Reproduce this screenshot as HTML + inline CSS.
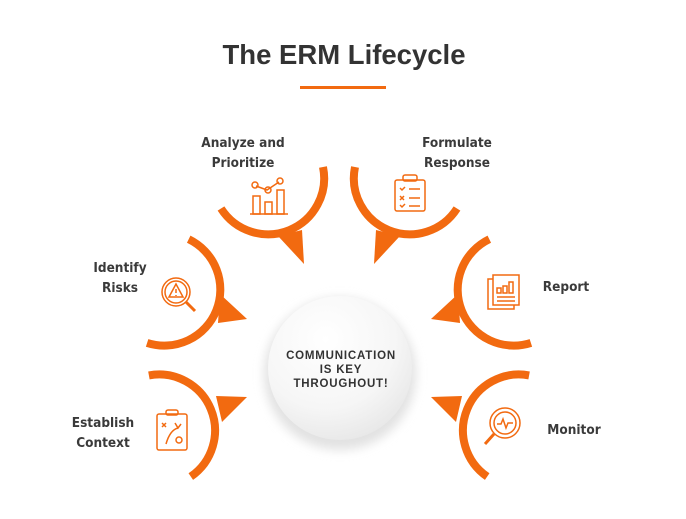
<!DOCTYPE html>
<html><head><meta charset="utf-8"><style>
html,body{margin:0;padding:0;background:#fff}
body{width:686px;height:519px;overflow:hidden;position:relative;font-family:"DejaVu Sans Condensed","Liberation Sans Narrow","Liberation Sans",sans-serif}
.l{position:absolute;font-weight:bold;color:#3a3a3a;font-size:13.5px;line-height:20px;text-align:center;font-stretch:condensed}
</style></head><body>
<svg width="686" height="519" style="position:absolute;left:0;top:0">
<defs>
<radialGradient id="g" cx="0.4" cy="0.3" r="0.8"><stop offset="0" stop-color="#ffffff"/><stop offset="0.6" stop-color="#f6f6f6"/><stop offset="1" stop-color="#e4e4e4"/></radialGradient>
<filter id="sh" x="-30%" y="-30%" width="160%" height="160%"><feGaussianBlur stdDeviation="5"/></filter>
</defs>
<text x="344" y="64" text-anchor="middle" font-family="Liberation Sans, sans-serif" font-weight="bold" font-size="27.5" fill="#333">The ERM Lifecycle</text>
<rect x="300" y="86" width="86" height="3" fill="#f26a10"/>
<circle cx="340" cy="374" r="76" fill="#e2e2e2" filter="url(#sh)"/>
<circle cx="340" cy="368" r="72" fill="url(#g)"/>
<text font-family="Liberation Sans, sans-serif" font-weight="bold" font-size="11.5" fill="#333" text-anchor="middle" letter-spacing="0.8"><tspan x="341" y="359">COMMUNICATION</tspan><tspan x="341" y="373">IS KEY</tspan><tspan x="341" y="387">THROUGHOUT!</tspan></text>
<g fill="none" stroke="#f26a10" stroke-width="8">
<path d="M323 167 A56 56 0 0 1 221 208.5"/>
<path d="M355 167 A56 56 0 0 0 457 208.5"/>
<path d="M188.7 239.2 A56 56 0 0 1 147.1 342.9"/>
<path d="M489.3 239.2 A56 56 0 0 0 530.9 342.9"/>
<path d="M148.9 375.4 A56 56 0 0 1 190.8 476.6"/>
<path d="M529.1 375.4 A56 56 0 0 0 487.2 476.6"/>
</g>
<g fill="#f26a10">
<polygon points="278,236 302,230 304,264"/>
<polygon points="400,236 376,230 374,264"/>
<polygon points="220,294 247,319 218,323"/>
<polygon points="458,294 431,319 460,323"/>
<polygon points="216,396 247,397 222,422"/>
<polygon points="462,396 431,397 456,422"/>
</g>
<g fill="none" stroke="#f26a10" stroke-width="1.5">
<path d="M250 214 H288"/><rect x="253" y="196" width="7" height="18"/><rect x="265" y="202" width="7" height="12"/><rect x="277" y="190" width="7" height="24"/>
<path d="M256 186 L267 190 L279 182"/><circle cx="255" cy="185" r="3"/><circle cx="268" cy="190" r="3"/><circle cx="280" cy="181" r="3"/>
<rect x="395" y="180" width="30" height="31" rx="2"/><rect x="403" y="175" width="14" height="6" rx="2"/>
<path d="M400 188 l2 2 l3 -3 M400 196 l4 4 M404 196 l-4 4 M400 205 l2 2 l3 -3 M409 189 H420 M409 198 H420 M409 206 H420"/>
<circle cx="176" cy="292" r="14"/><circle cx="176" cy="292" r="11"/><path d="M186 302 L195 311" stroke-width="3"/>
<path d="M176 284 L183 297 H169 Z M176 289 V293 M176 295 V296"/>
<rect x="488" y="279" width="26" height="30"/><rect x="493" y="275" width="26" height="30" fill="#fff"/>
<rect x="497" y="288" width="4" height="5"/><rect x="503" y="286" width="4" height="7"/><rect x="509" y="282" width="4" height="11"/>
<path d="M497 297 H515 M497 301 H515"/>
<rect x="157" y="414" width="30" height="36" rx="2"/><rect x="166" y="410" width="12" height="5" rx="2"/>
<path d="M162 423 l4 4 M166 423 l-4 4 M166 444 Q170 430 178 428 M175 423 l3 5 l3 -4"/><circle cx="179" cy="440" r="3"/>
<circle cx="505" cy="423" r="15"/><circle cx="505" cy="423" r="11"/><path d="M494 434 L485 444" stroke-width="3"/>
<path d="M497 424 H501 L503 419 L506 428 L508 423 H513"/>
</g>
</svg>
<div class="l" style="left:193px;top:133px;width:100px">Analyze and<br>Prioritize</div>
<div class="l" style="left:407px;top:133px;width:100px">Formulate<br>Response</div>
<div class="l" style="left:80px;top:258px;width:80px">Identify<br>Risks</div>
<div class="l" style="left:536px;top:277px;width:60px">Report</div>
<div class="l" style="left:63px;top:413px;width:80px">Establish<br>Context</div>
<div class="l" style="left:544px;top:420px;width:60px">Monitor</div>
</body></html>
